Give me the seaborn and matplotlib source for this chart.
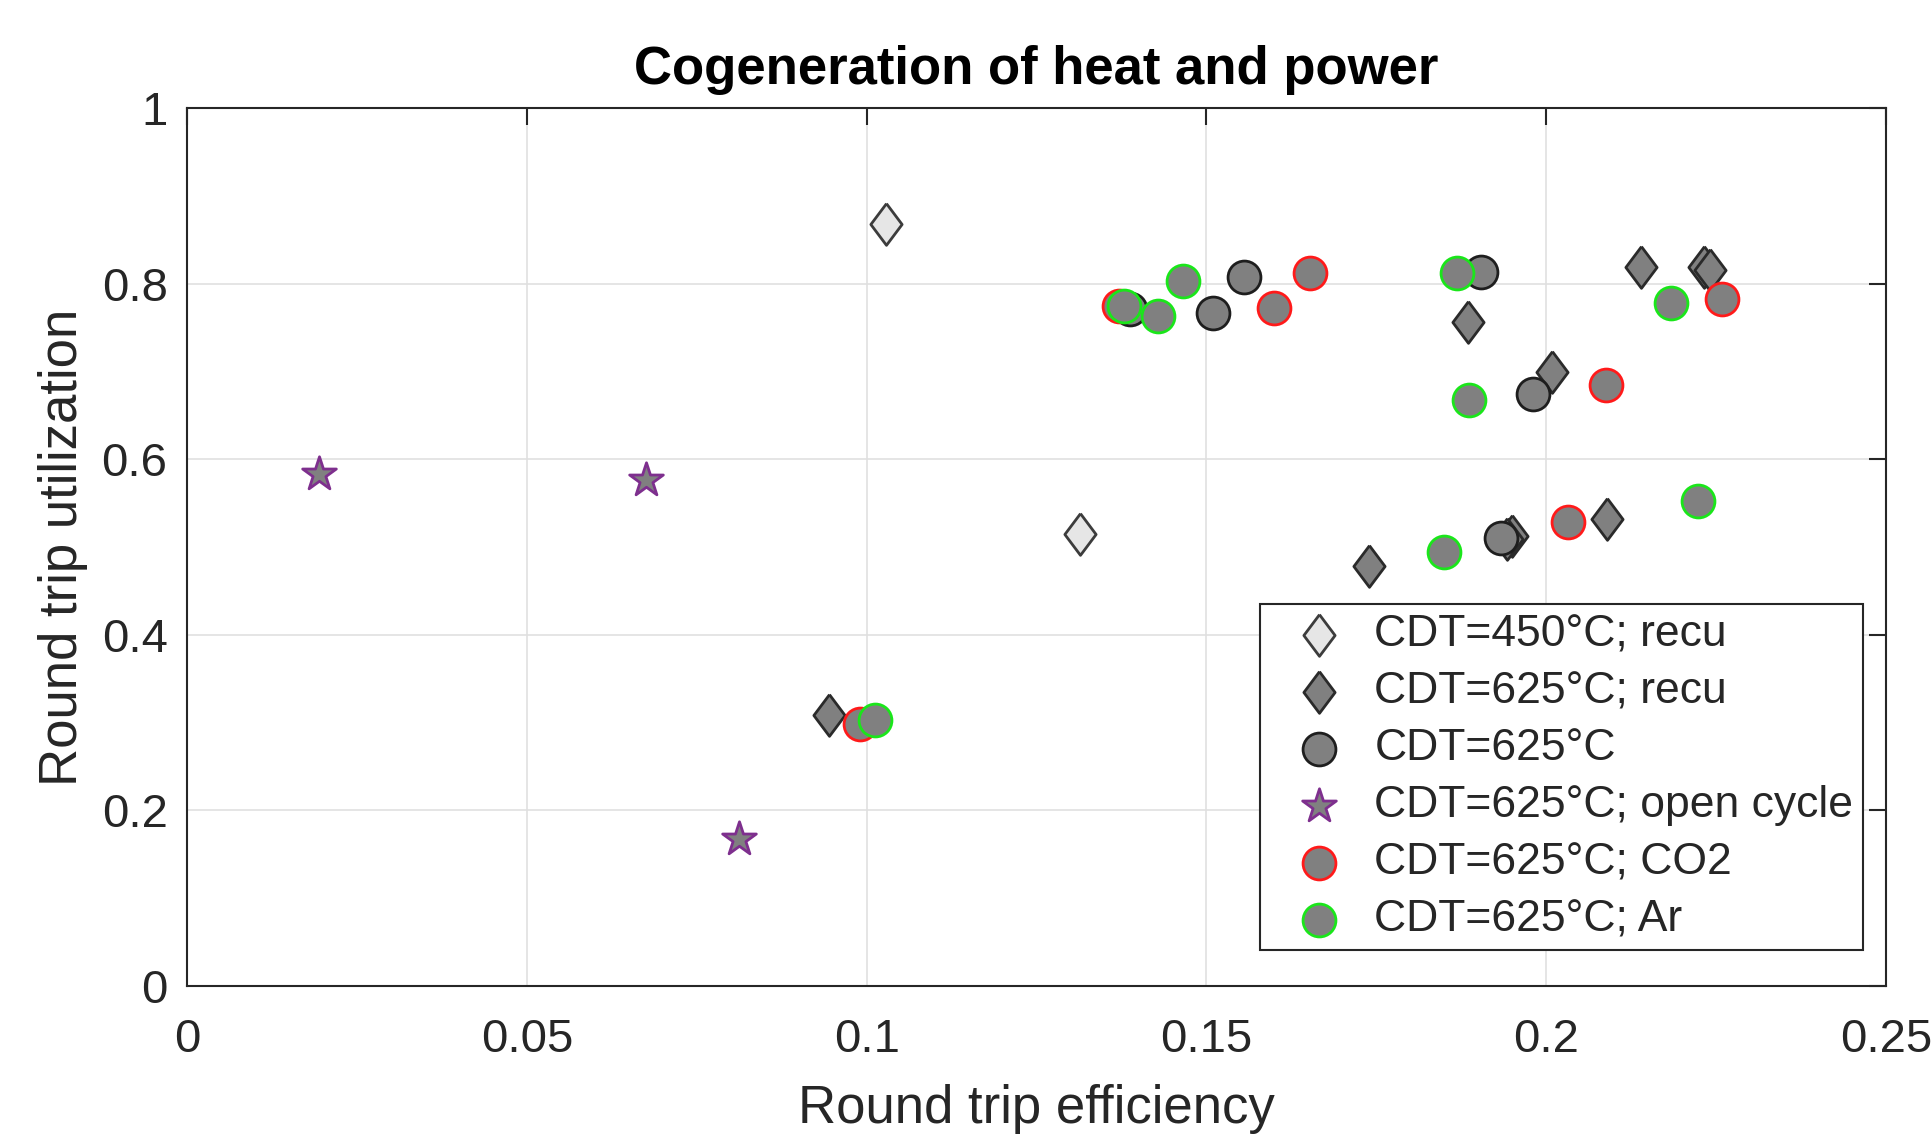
import numpy as np
import pandas as pd
import matplotlib
matplotlib.use("Agg")
import matplotlib.pyplot as plt
import seaborn as sns

# data (round trip efficiency, round trip utilization)
recu450_x = [0.1028, 0.1314]
recu450_y = [0.868, 0.515]

recu625_x = [0.0945, 0.1739, 0.1885, 0.2009, 0.1950, 0.1943, 0.2090, 0.2139, 0.2232, 0.2241]
recu625_y = [0.309, 0.478, 0.756, 0.699, 0.513, 0.509, 0.532, 0.819, 0.819, 0.816]

base625_x = [0.1387, 0.1510, 0.1555, 0.1904, 0.1980, 0.1934]
base625_y = [0.771, 0.767, 0.808, 0.813, 0.674, 0.510]

open_x = [0.0194, 0.0676, 0.0812]
open_y = [0.583, 0.576, 0.167]

co2_x = [0.0990, 0.1372, 0.1600, 0.1653, 0.2088, 0.2032, 0.2259]
co2_y = [0.298, 0.774, 0.772, 0.812, 0.685, 0.529, 0.782]

ar_x = [0.1013, 0.1378, 0.1429, 0.1465, 0.1869, 0.1887, 0.1849, 0.2183, 0.2223]
ar_y = [0.303, 0.775, 0.763, 0.803, 0.812, 0.667, 0.494, 0.778, 0.552]

labels = ["CDT=450°C; recu", "CDT=625°C; recu", "CDT=625°C",
          "CDT=625°C; open cycle", "CDT=625°C; CO2", "CDT=625°C; Ar"]

xticks = [0, 0.05, 0.1, 0.15, 0.2, 0.25]
xtick_labels = ["0", "0.05", "0.1", "0.15", "0.2", "0.25"]
yticks = [0, 0.2, 0.4, 0.6, 0.8, 1]
ytick_labels = ["0", "0.2", "0.4", "0.6", "0.8", "1"]

sns.set_style("white")
plt.rcParams["font.family"] = ["Liberation Sans", "DejaVu Sans"]

fig = plt.figure(figsize=(19.32, 11.43), dpi=100)
ax = fig.add_axes([0.0968, 0.1374, 0.8794, 0.7681])

diamond = [(0, 1), (0.75, 0), (0, -1), (-0.75, 0), (0, 1)]

sns.scatterplot(x=recu450_x, y=recu450_y, marker=diamond, s=900, color="#E6E6E6",
                edgecolor="#3C3C3C", linewidth=2, label=labels[0], ax=ax, zorder=3)
sns.scatterplot(x=recu625_x, y=recu625_y, marker=diamond, s=900, color="#808080",
                edgecolor="#2A2A2A", linewidth=2, label=labels[1], ax=ax, zorder=3)
sns.scatterplot(x=base625_x, y=base625_y, marker="o", s=560, color="#808080",
                edgecolor="#1E1E1E", linewidth=2, label=labels[2], ax=ax, zorder=3)
sns.scatterplot(x=open_x, y=open_y, marker="*", s=650, color="#808080",
                edgecolor="#7E2F8E", linewidth=2, label=labels[3], ax=ax, zorder=3)
sns.scatterplot(x=co2_x, y=co2_y, marker="o", s=560, color="#808080",
                edgecolor="#FF1A1A", linewidth=2, label=labels[4], ax=ax, zorder=3)
sns.scatterplot(x=ar_x, y=ar_y, marker="o", s=560, color="#808080",
                edgecolor="#1AE61A", linewidth=2, label=labels[5], ax=ax, zorder=3)

ax.set_xlim(0, 0.25)
ax.set_ylim(0, 1)
ax.set_xticks(xticks)
ax.set_xticklabels(xtick_labels)
ax.set_yticks(yticks)
ax.set_yticklabels(ytick_labels)
ax.tick_params(direction="in", length=12, width=1.5, labelsize=34, colors="#262626",
               top=True, right=True)
ax.tick_params(axis="x", pad=23)
ax.tick_params(axis="y", pad=14)
ax.grid(True, color="#E0E0E0", linewidth=1.2)
ax.set_axisbelow(True)
for sp in ax.spines.values():
    sp.set_color("#262626")
    sp.set_linewidth(1.5)

ax.set_xlabel("Round trip efficiency", fontsize=38, color="#262626", labelpad=16)
ax.set_ylabel("Round trip utilization", fontsize=38, color="#262626", labelpad=10)
ax.set_title("Cogeneration of heat and power", fontsize=38, fontweight="bold",
             color="black", pad=17)

leg = ax.legend(loc="lower right", bbox_to_anchor=(0.9865, 0.041), fontsize=32,
                frameon=True, fancybox=False, framealpha=1, edgecolor="#262626",
                labelspacing=0.36, handletextpad=0.15, borderpad=0.22, handlelength=2.2,
                borderaxespad=0)
leg.get_frame().set_linewidth(1.5)

fig.savefig("out.png", dpi=100)
